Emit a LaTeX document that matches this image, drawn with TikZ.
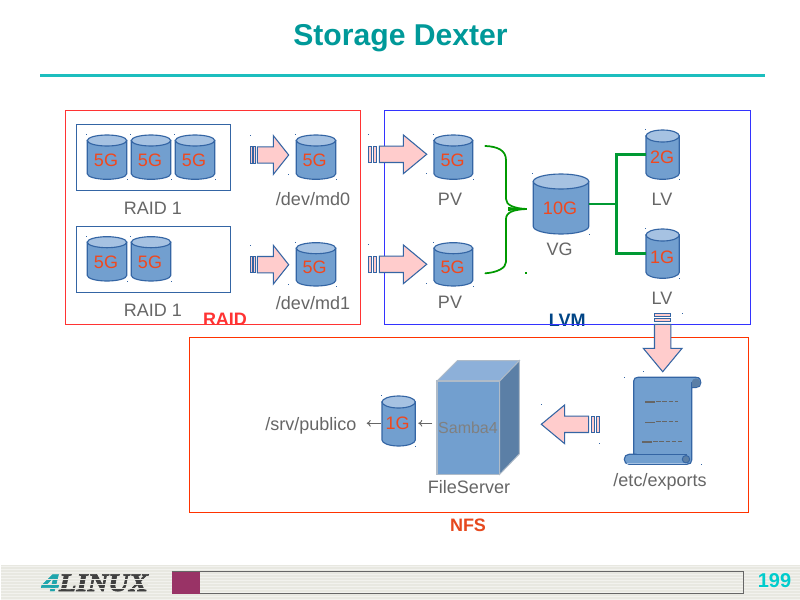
\documentclass[tikz,border=0pt]{standalone}
\usepackage{fontspec}
\setmainfont{Liberation Sans}
\newfontfamily\logoserif[BoldItalicFeatures={FakeBold=2.5}]{Liberation Serif}
\newfontfamily\logosans[BoldItalicFeatures={FakeBold=2}]{Liberation Sans}
\usetikzlibrary{arrows.meta}
\definecolor{cylfill}{HTML}{729FCF}
\definecolor{cyltop}{HTML}{A6C2E2}
\definecolor{cylline}{HTML}{3465A4}
\definecolor{capred}{HTML}{F0481E}
\definecolor{labgrey}{HTML}{666666}
\definecolor{pinkfill}{HTML}{FFCCCC}
\definecolor{lgreen}{HTML}{009933}
\definecolor{bracegreen}{HTML}{009900}
\definecolor{bgfoot}{HTML}{E8E8E1}
\definecolor{bgstripe}{HTML}{F2F2EE}
\definecolor{barpurple}{HTML}{993366}
\definecolor{pagecyan}{HTML}{00CCCC}
\definecolor{titleteal}{HTML}{009999}
\definecolor{ruleteal}{HTML}{1CBEBE}
\definecolor{raidred}{HTML}{FF3333}
\definecolor{lvmblue}{HTML}{3333FF}
\definecolor{lvmtext}{HTML}{004586}
\definecolor{nfsred}{HTML}{FF3300}
\definecolor{nfstext}{HTML}{E6491E}
\definecolor{cubetop}{HTML}{8DB0D9}
\definecolor{cubeside}{HTML}{5B7FA6}
\definecolor{cubeedge}{HTML}{AFBBC8}
\definecolor{logoteal}{HTML}{1FA5AC}
\tikzset{
  lablabel/.style={anchor=base,text=labgrey,inner sep=0pt,font=\fontsize{13.5}{16}\selectfont},
  cyltext/.style={anchor=base,text=capred,inner sep=0pt,font=\fontsize{13.5}{16}\selectfont},
  headlabel/.style={anchor=base,inner sep=0pt,font=\bfseries\fontsize{13.5}{16}\selectfont},
  framebox/.style={line width=0.75pt},
  cylbody/.style={draw=cylline,line width=0.85pt,fill=cylfill},
  cyllid/.style={draw=cylline,line width=0.85pt,fill=cyltop},
  blockarrow/.style={draw=cylline,line width=0.8pt,fill=pinkfill,line join=miter},
  handledot/.style={fill=cylline,draw=none},
  greenline/.style={draw=lgreen,line width=1.9pt},
  bracecurve/.style={draw=bracegreen,line width=1.3pt,line cap=round},
  thinarrow/.style={draw=labgrey,line width=0.7pt,-{To[length=3pt,width=5pt]}},
  scrolldash/.style={draw=labgrey,line width=0.9pt},
  scrollbody/.style={draw=cylline,line width=0.85pt,fill=cylfill},
}
% name x1 y1 x2 y2 ry text textx baseline
\newcommand{\cylnode}[9]{%
  \pgfmathsetmacro\cxx{(#2+#4)/2}%
  \pgfmathsetmacro\rxx{(#4-#2)/2}%
  \pgfmathsetmacro\ytt{#3+#6}%
  \pgfmathsetmacro\ybb{#5-#6}%
  \pgfmathsetmacro\kx{0.5523*\rxx}%
  \pgfmathsetmacro\ky{0.5523*#6}%
  \pgfmathsetmacro\cyy{(#3+#5)/2}%
  \pgfmathsetmacro\wdd{(#4-#2)*0.75}%
  \pgfmathsetmacro\htt{(#5-#3)*0.75}%
  \path[cylbody] (#2,\ytt) -- (#2,\ybb) .. controls (#2,\ybb+\ky) and (\cxx-\kx,#5) .. (\cxx,#5)
     .. controls (\cxx+\kx,#5) and (#4,\ybb+\ky) .. (#4,\ybb) -- (#4,\ytt) -- cycle;
  \path[cyllid] (\cxx,\ytt) ellipse [x radius=\rxx*0.75pt,y radius=#6*0.75pt];
  \fill[handledot] (#2-1,#3-1) rectangle (#2,#3);
  \fill[handledot] (#4,#5) rectangle (#4+1,#5+1);
  \node[inner sep=0pt,minimum width=\wdd pt,minimum height=\htt pt] (#1) at (\cxx,\cyy) {};
  \node[cyltext] (#1t) at (#8,#9) {#7};
}
% x y angle L H T
\newcommand{\stripearrow}[6]{%
  \begin{scope}[shift={(#1,#2)},rotate=#3]
    \pgfmathsetmacro\sa{0.31*#6}\pgfmathsetmacro\sb{0.45*#6}\pgfmathsetmacro\sc{0.77*#6}%
    \pgfmathsetmacro\hb{#4-#5}%
    \path[blockarrow] (0,-8.2) rectangle (\sa,8.2);
    \path[blockarrow] (\sb,-8.2) rectangle (\sc,8.2);
    \path[blockarrow] (#6,-8.2) -- (\hb,-8.2) -- (\hb,-19.4) -- (#4,0) -- (\hb,19.4) -- (\hb,8.2) -- (#6,8.2) -- cycle;
    \fill[handledot] (-0.5,-20) rectangle (0.5,-19);
    \fill[handledot] (#4-0.5,19) rectangle (#4+0.5,20);
  \end{scope}
}
\begin{document}
\begin{tikzpicture}[x=0.75pt,y=-0.75pt]
\useasboundingbox (0,0) rectangle (800,600);
\fill[white] (0,0) rectangle (800,600);
% footer
\fill[bgfoot] (1,565) rectangle (800,600);
\foreach \yy in {566,569,...,599} {\fill[bgstripe] (1,\yy) rectangle (800,\yy+1);}
\node[anchor=base,inner sep=0pt,text=logoteal,xscale=1.3] (logofour) at (50.5,591)
  {\logosans\bfseries\itshape\fontsize{18}{20}\selectfont 4};
\node[anchor=base,inner sep=0pt,text=black!75,xscale=1.13] (logoname) at (103.5,591)
  {\logoserif\bfseries\itshape\fontsize{19}{22}\selectfont LINUX};
\foreach \yy in {579,584,588} {\draw[bgfoot,line width=0.45pt] (41,\yy) -- (148,\yy);}
\fill[bgfoot] (200,572.2) rectangle (743.2,593.2);
\foreach \yy in {574,577,...,592} {\fill[bgstripe] (200,\yy) rectangle (743.2,\yy+1);}
\draw[labgrey,line width=0.9pt] (171.7,571.7) -- (743.7,571.7) -- (743.7,593.7) -- (171.7,593.7);
\fill[barpurple] (171.7,571.7) rectangle (200,593.7);
\node[headlabel,text=pagecyan,font=\bfseries\fontsize{15}{18}\selectfont] (pageno) at (774.5,587.7) {199};
% title
\node[anchor=base,inner sep=0pt,text=titleteal,font=\bfseries\fontsize{22.6}{27}\selectfont] (title) at (400.5,45.5) {Storage Dexter};
\draw[line width=2pt,draw=ruleteal] (40,75.7) -- (765,75.7);
% group labels (under frames)
\node[headlabel,text=raidred] (raidlab) at (225,325) {RAID};
\node[headlabel,text=lvmtext] (lvmlab) at (567.3,326) {LVM};
\node[headlabel,text=nfstext] (nfslab) at (468,531.5) {NFS};
% frames
\draw[framebox,draw=raidred] (65.3,110.3) rectangle (360.7,324.3);
\draw[framebox,draw=lvmblue] (384.3,110.3) rectangle (750.7,324.3);
\draw[framebox,draw=nfsred] (189.5,337.5) rectangle (748.5,512.5);
\draw[framebox,draw=cylline] (76.3,124.3) rectangle (230.7,190.3);
\draw[framebox,draw=cylline] (76.3,226.3) rectangle (230.7,292.3);
% RAID cylinders
\cylnode{ca}{87.3}{135}{126.7}{179.3}{5.5}{5G}{106}{166}
\cylnode{cb}{131.3}{135}{170.7}{179.3}{5.5}{5G}{150}{166}
\cylnode{cc}{175.3}{135}{214.7}{179.3}{5.5}{5G}{194}{166}
\cylnode{cd}{87.3}{236.7}{126.7}{281}{5.5}{5G}{106}{268}
\cylnode{ce}{131.3}{236.7}{170.7}{281}{5.5}{5G}{150}{268}
\cylnode{mda}{296.3}{135}{335.7}{179.3}{5.5}{5G}{314.7}{166}
\cylnode{mdb}{296.3}{242.7}{335.7}{286}{5.5}{5G}{314.7}{273}
\node[lablabel] (raida) at (153,214) {RAID 1};
\node[lablabel] (raidb) at (153,316) {RAID 1};
\node[lablabel] (mdalab) at (313,205) {/dev/md0};
\node[lablabel] (mdblab) at (313,309) {/dev/md1};
% LVM cylinders
\cylnode{pva}{434}{135}{472.7}{179.3}{5.5}{5G}{452.7}{166}
\cylnode{pvb}{434}{242.7}{472.7}{286}{5.5}{5G}{452.7}{273}
\cylnode{vg}{533.3}{174}{588.7}{234}{7.5}{10G}{560}{214}
\cylnode{lva}{646}{130}{679.3}{179.3}{6}{2G}{662}{163.5}
\cylnode{lvb}{646}{229}{679.3}{278.3}{6}{1G}{662}{263}
\node[lablabel] (pvalab) at (450,205) {PV};
\node[lablabel] (pvblab) at (450,308.5) {PV};
\node[lablabel] (vglab) at (559.5,255.5) {VG};
\node[lablabel] (lvalab) at (662,205) {LV};
\node[lablabel] (lvblab) at (662,304) {LV};
% green connectors
\coordinate (junc) at (616.7,204);
\draw[greenline] (vg.east) -- (junc) |- (lva.west);
\draw[greenline] (junc) |- (lvb.west);
\coordinate (bt) at (485.3,146);
\coordinate (bb) at (485.3,273.3);
\coordinate (bm) at (526.7,209);
\draw[bracecurve] (bt) .. controls (497,146.5) and (506,150) .. (506,160) -- (506,199)
   .. controls (506,205) and (514,208.5) .. (bm)
   .. controls (514,209.5) and (506,212) .. (506,219) -- (506,262)
   .. controls (506,268) and (497,272.5) .. (bb);
\fill[bracegreen] (508,207) -- (526.7,209) -- (508,211) -- cycle;
\fill[bracegreen] (525,272.2) rectangle (527,273.8);
% block arrows
\stripearrow{250.3}{155}{0}{38.4}{15.4}{7}
\stripearrow{250.3}{264.7}{0}{38.4}{15.4}{7}
\stripearrow{368.3}{154.3}{0}{58.4}{23.4}{11}
\stripearrow{368.3}{264.3}{0}{58.4}{23.4}{11}
\stripearrow{662.7}{313.3}{-90}{58.4}{23.4}{11}
\stripearrow{599.7}{424.3}{180}{58.4}{23.4}{11}
% file server
\path[fill=cubetop,draw=cubeedge,line width=0.7pt]
  (437,381) -- (457.3,360.7) -- (519.3,360.7) -- (499.7,381) -- cycle;
\path[fill=cubeside,draw=cubeedge,line width=0.7pt]
  (499.7,381) -- (519.3,360.7) -- (519.3,454) -- (499.7,474.3) -- cycle;
\node[draw=cubeedge,fill=cylfill,line width=0.9pt,inner sep=0pt,
  minimum width=47pt,minimum height=70pt] (server) at (468.35,427.65) {};
\node[anchor=base,inner sep=0pt,text=gray,font=\fontsize{12}{14}\selectfont] (samba) at (468,433) {Samba4};
\node[lablabel] (fslab) at (469,493.3) {FileServer};
% share
\cylnode{pub}{382}{396}{415.3}{446}{6}{1G}{397.7}{429.3}
\node[lablabel] (publab) at (310.8,430) {/srv/publico};
\coordinate (sa) at (432.3,423.3);
\coordinate (sb) at (418.3,423.3);
\coordinate (sc) at (380.7,423.3);
\coordinate (sd) at (366.7,423.3);
\draw[thinarrow] (sa) -- (sb);
\draw[thinarrow] (sc) -- (sd);
% scroll
\path[scrollbody] (636.7,454.3) -- (633.7,454.3) -- (633.7,381) .. controls (633.7,378.5) and (635.5,377.3) .. (638,377.3)
   -- (696,377.3) .. controls (700,377.3) and (700.8,380) .. (700.8,382.7)
   .. controls (700.8,385.5) and (699,387.5) .. (696,387.5) -- (691.7,387.5) -- (691.7,460)
   .. controls (691.7,462.7) and (690,464.3) .. (687,464.3) -- (629,464.3)
   .. controls (626,464.3) and (624.3,462) .. (624.3,459.3)
   .. controls (624.3,456.5) and (626,454.3) .. (629,454.3) -- cycle;
\draw[cylline,line width=0.8pt] (629,454.3) -- (687,454.3);
\draw[cyltop,line width=0.8pt] (627,463.2) -- (687,463.2);
\draw[cylline,line width=0.8pt,fill=cubeside] (691.7,382.7) -- (696,382.7) -- (696,387.5) -- (691.7,387.5) -- cycle;
\fill[cubeside] (696,382.7) circle [radius=3.3pt];
\draw[cylline,line width=0.7pt,fill=cubeside] (686,459.2) circle [radius=2.8pt];
\draw[scrolldash] (645,402) -- (655,402);
\draw[scrolldash,dash pattern=on 3.5pt off 1.2pt] (656,401.5) -- (678.3,401.5);
\draw[scrolldash] (645,422.3) -- (655,422.3);
\draw[scrolldash,dash pattern=on 3.5pt off 1.2pt] (656,421.8) -- (678.3,421.8);
\draw[scrolldash] (642.3,442) -- (652,442);
\draw[scrolldash,dash pattern=on 3.5pt off 1.2pt] (653,441.5) -- (681.7,441.5);
\fill[handledot] (624,377) rectangle (625,378);
\fill[handledot] (701,464) rectangle (702,465);
\node[lablabel] (explab) at (660,486) {/etc/exports};
\end{tikzpicture}
\end{document}
